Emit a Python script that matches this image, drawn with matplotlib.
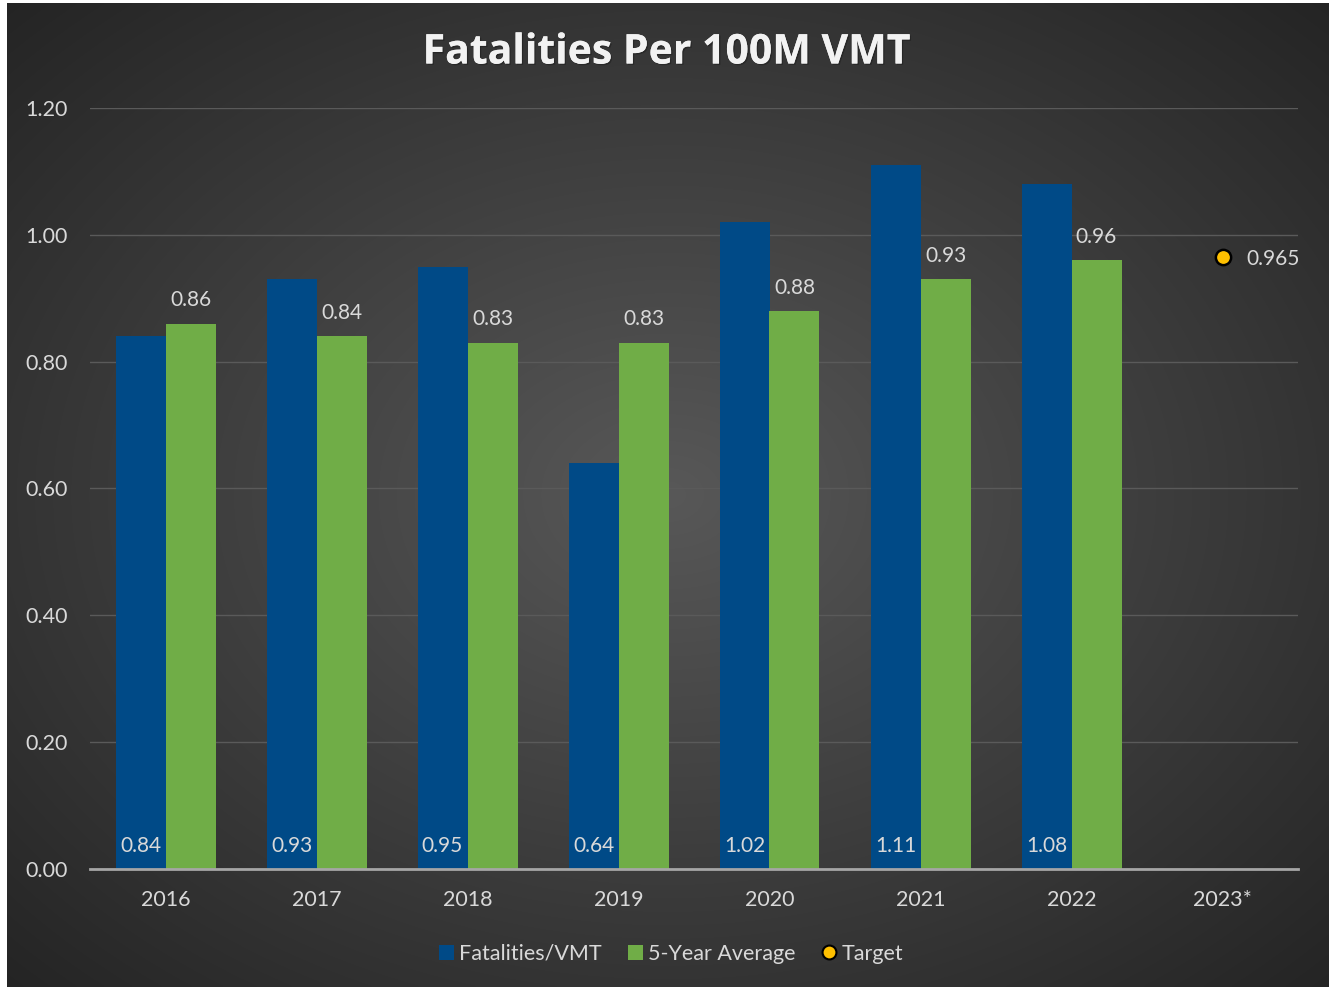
import numpy as np
import matplotlib
matplotlib.use("Agg")
import matplotlib.pyplot as plt
from matplotlib.lines import Line2D
from matplotlib.patches import Patch
import matplotlib.patheffects as pe

plt.rcParams['font.family'] = ['Lato', 'DejaVu Sans']

years = ["2016", "2017", "2018", "2019", "2020", "2021", "2022", "2023*"]
fatalities = [0.84, 0.93, 0.95, 0.64, 1.02, 1.11, 1.08]
five_year = [0.86, 0.84, 0.83, 0.83, 0.88, 0.93, 0.96]
target_value = 0.965
target_index = 7

W, H = 1336, 989
fig = plt.figure(figsize=(W / 100, H / 100), dpi=100, facecolor="white")

# background panel with radial gradient
bx0, by0, bx1, by1 = 7, 3, 1329, 987
bg = fig.add_axes([bx0 / W, 1 - by1 / H, (bx1 - bx0) / W, (by1 - by0) / H])
yy, xx = np.mgrid[0:1:400j, 0:1:540j]
r = np.sqrt(((xx - 0.5) / 0.75) ** 2 + ((yy - 0.5) / 0.75) ** 2)
r = np.clip(r / 0.95, 0, 1)
inner = np.array([0x58, 0x58, 0x58]) / 255
outer = np.array([0x24, 0x24, 0x24]) / 255
img = inner[None, None, :] * (1 - r[..., None]) + outer[None, None, :] * r[..., None]
bg.imshow(img, aspect="auto", extent=[0, 1, 0, 1], interpolation="bilinear")
bg.set_axis_off()

# main axes
px0, px1, py_top, py_bot = 90, 1298, 108, 869
ax = fig.add_axes([px0 / W, 1 - py_bot / H, (px1 - px0) / W, (py_bot - py_top) / H])
ax.patch.set_alpha(0)

n = len(years)
x = np.arange(n)
bw = 50 / 151
blue = "#004a87"
green = "#70ad47"
gold = "#ffc000"
txt = "#d9d9d9"

xb = x[:len(fatalities)]
ax.bar(xb - bw / 2, fatalities, width=bw, color=blue, zorder=3)
ax.bar(xb + bw / 2, five_year, width=bw, color=green, zorder=3)
ax.plot([x[target_index]], [target_value], marker="o", markersize=11,
        markerfacecolor=gold, markeredgecolor="black", markeredgewidth=1.8,
        linestyle="none", zorder=4)

for xi, v in zip(xb, fatalities):
    ax.text(xi - bw / 2, 0.02, f"{v:.2f}", ha="center", va="bottom",
            color=txt, fontsize=15, zorder=5)
for xi, v in zip(xb, five_year):
    ax.text(xi + bw / 2, v + 0.021, f"{v:.2f}", ha="center", va="bottom",
            color=txt, fontsize=15, zorder=5)
ax.text(x[target_index] + 0.16, target_value, f"{target_value:.3f}", ha="left",
        va="center_baseline", color=txt, fontsize=15, zorder=5)

ax.set_xlim(-0.5, n - 0.5)
ax.set_ylim(0, 1.2)
ax.set_yticks(np.arange(0, 1.21, 0.2))
ax.set_yticklabels([f"{t:.2f}" for t in np.arange(0, 1.21, 0.2)])
ax.set_xticks(x)
ax.set_xticklabels(years)
ax.tick_params(axis="both", length=0, colors=txt, labelsize=15.5)
ax.tick_params(axis="x", pad=15)
ax.tick_params(axis="y", pad=16)
for s in ["top", "right", "left"]:
    ax.spines[s].set_visible(False)
ax.spines["bottom"].set_color("#a6a6a6")
ax.spines["bottom"].set_linewidth(2)
ax.spines["bottom"].set_zorder(6)
ax.grid(axis="y", color="#5a5a5a", linewidth=1, zorder=0)
ax.set_axisbelow(True)

fig.text(667 / W, 1 - 53 / H, "Fatalities Per 100M VMT", ha="center", va="center",
         color="#f2f2f2", fontsize=29.5, fontweight="bold", family="Open Sans",
         path_effects=[pe.withSimplePatchShadow(offset=(1, -1), shadow_rgbFace="black", alpha=0.25),
                       pe.Normal()])

handles = [
    Patch(facecolor=blue, edgecolor="none", label="Fatalities/VMT"),
    Patch(facecolor=green, edgecolor="none", label="5-Year Average"),
    Line2D([0], [0], marker="o", color="none", markerfacecolor=gold,
           markeredgecolor="black", markeredgewidth=1.5, markersize=10, label="Target"),
]
leg = fig.legend(handles=handles, loc="center", bbox_to_anchor=(671 / W, 1 - 954 / H),
                 ncol=3, frameon=False, fontsize=15.5, labelcolor=txt,
                 handlelength=0.7, handleheight=0.7, handletextpad=0.25, columnspacing=1.2)

fig.savefig("out.png", dpi=100, facecolor="white")
